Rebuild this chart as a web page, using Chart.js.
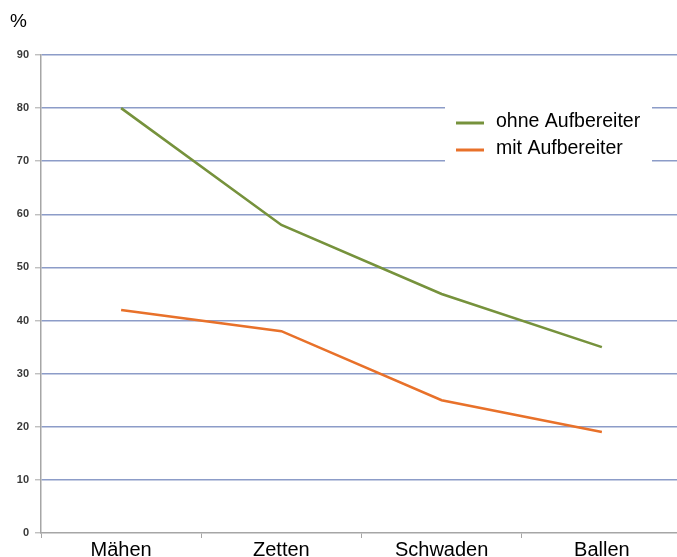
<!DOCTYPE html>
<html>
<head>
<meta charset="utf-8">
<script src="https://cdn.jsdelivr.net/npm/chart.js@4/dist/chart.umd.min.js"></script>
<style>
  html, body { margin: 0; padding: 0; background: #fff; overflow: hidden; }
  #wrap { width: 682px; height: 557px; }
</style>
</head>
<body>
<div id="wrap"><canvas id="c" width="682" height="557"></canvas></div>
<script>
// Arbeitsschritte und Verluste in %
const categories = ['Mähen', 'Zetten', 'Schwaden', 'Ballen'];
const ohneAufbereiter = [80, 58, 45, 35];
const mitAufbereiter = [42, 38, 25, 19];
const yTicks = [0, 10, 20, 30, 40, 50, 60, 70, 80, 90];

const GREEN = '#76923C';
const ORANGE = '#E8712A';
const FONT = '"Liberation Sans", Arial, sans-serif';

// Legend box inside the plot plus the unit label above the y axis
const overlay = {
  id: 'overlay',
  afterDraw(chart) {
    const ctx = chart.ctx;
    ctx.save();
    ctx.fillStyle = '#000';
    ctx.font = '19px ' + FONT;
    ctx.textBaseline = 'middle';
    ctx.textAlign = 'left';
    ctx.fillText('%', 10, 22);

    const bx = 445, by = 90, bw = 207, bh = 76;
    ctx.fillStyle = '#fff';
    ctx.fillRect(bx, by, bw, bh);
    ctx.font = '19.5px ' + FONT;
    chart.data.datasets.forEach((ds, i) => {
      const y = 122 + i * 27;
      ctx.strokeStyle = ds.borderColor;
      ctx.lineWidth = 3;
      ctx.beginPath();
      ctx.moveTo(456, y + 1);
      ctx.lineTo(484, y + 1);
      ctx.stroke();
      ctx.fillStyle = '#000';
      ctx.fillText(ds.label, 496, y);
    });
    ctx.restore();
  }
};

new Chart(document.getElementById('c'), {
  type: 'line',
  data: {
    labels: categories,
    datasets: [
      { label: 'ohne Aufbereiter', data: ohneAufbereiter, borderColor: GREEN, borderWidth: 2.6, pointRadius: 0, tension: 0, fill: false },
      { label: 'mit Aufbereiter', data: mitAufbereiter, borderColor: ORANGE, borderWidth: 2.6, pointRadius: 0, tension: 0, fill: false }
    ]
  },
  options: {
    responsive: false,
    animation: false,
    devicePixelRatio: 1,
    layout: { padding: { top: 55, right: 0, bottom: 0, left: 0 } },
    plugins: {
      legend: { display: false },
      tooltip: { enabled: false },
      title: { display: false }
    },
    scales: {
      x: {
        offset: true,
        grid: { offset: true, drawOnChartArea: false, drawTicks: true, tickLength: 5, color: '#A6A6A6', lineWidth: 1 },
        border: { display: true, color: '#A6A6A6', width: 1.5 },
        ticks: { color: '#000', padding: 0, font: { family: FONT, size: 20 } },
        afterFit(scale) { scale.height = 24; }
      },
      y: {
        min: 0,
        max: 90,
        afterBuildTicks(scale) { scale.ticks = yTicks.map(v => ({ value: v })); },
        grid: {
          color: ctx => (ctx.tick && ctx.tick.value === 0) ? 'rgba(0,0,0,0)' : '#8C9CC8',
          lineWidth: 1.6,
          tickLength: 6,
          tickColor: '#A6A6A6',
          tickWidth: 1
        },
        border: { display: true, color: '#A6A6A6', width: 1.5 },
        ticks: { color: '#3A3A3A', padding: 6, font: { family: FONT, size: 11, weight: 'bold' } },
        afterFit(scale) { scale.width = 41; }
      }
    }
  },
  plugins: [overlay]
});
</script>
</body>
</html>
